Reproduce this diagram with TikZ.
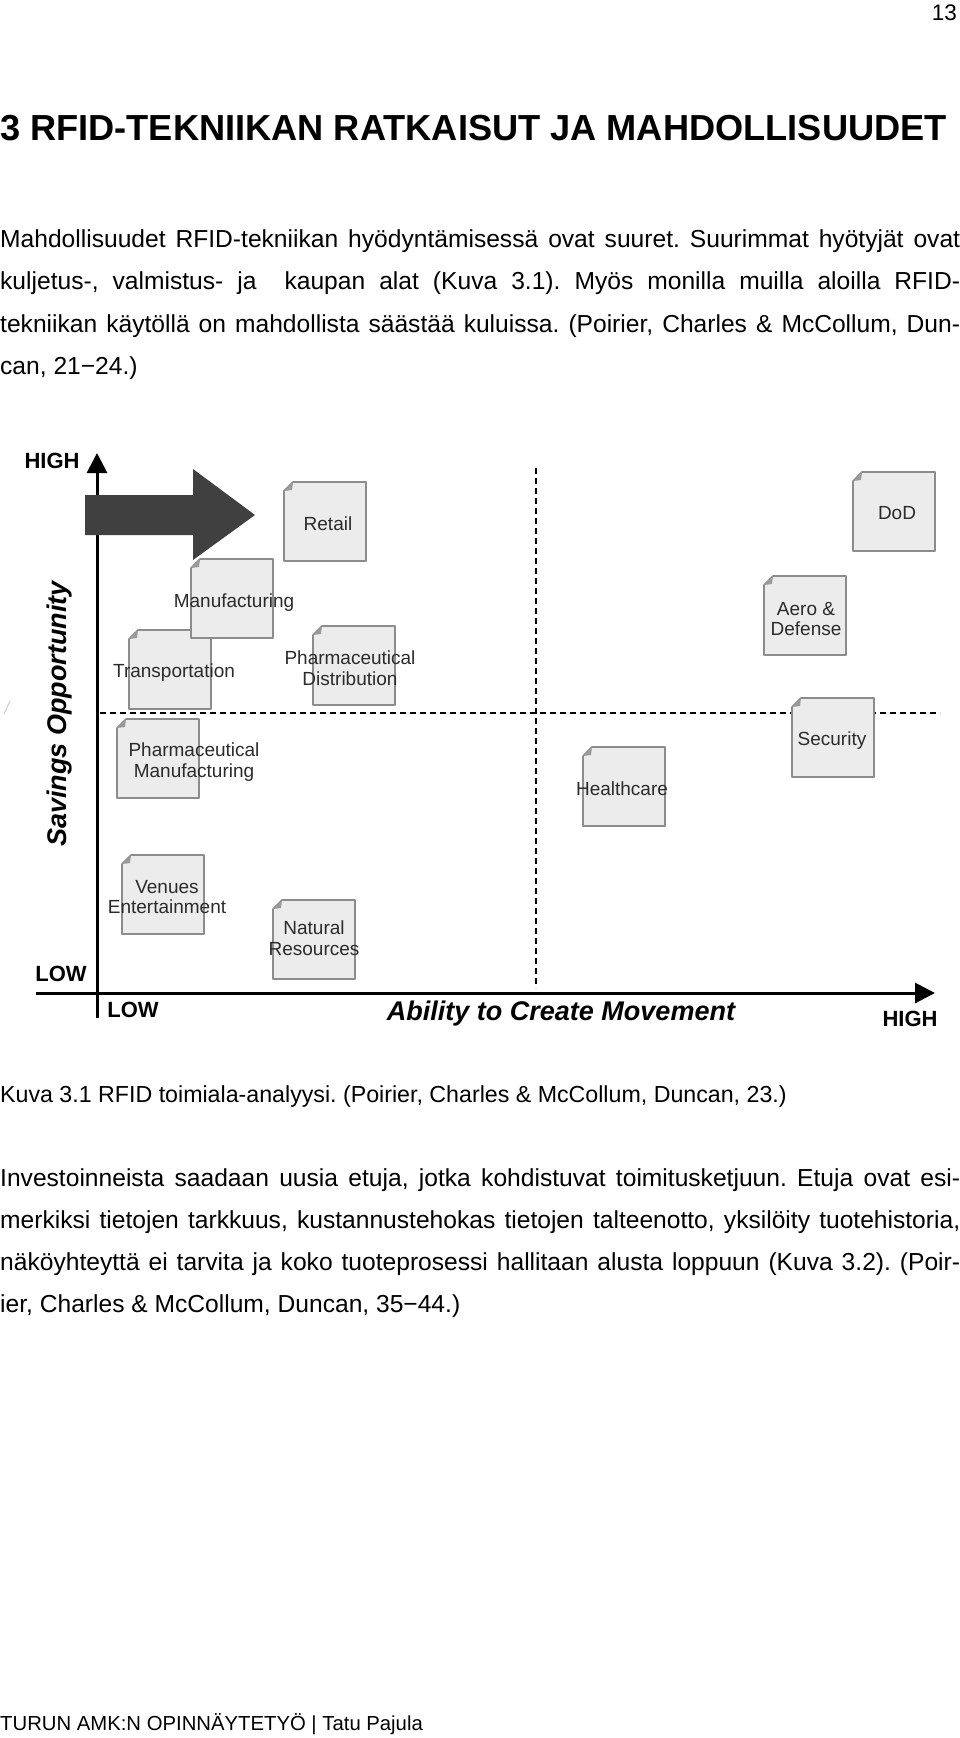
\documentclass[tikz,border=0pt]{standalone}
\usepackage{fontspec}
\setmainfont{Liberation Sans}
\usetikzlibrary{arrows.meta}
\frenchspacing
\definecolor{boxfill}{HTML}{ECECEC}
\definecolor{boxline}{HTML}{8C8C8C}
\definecolor{foldcol}{HTML}{9A9A9A}
\definecolor{arrowcol}{HTML}{404040}
\definecolor{labcol}{HTML}{2B2B2B}
\tikzset{
  pics/docbox/.style={code={
    \filldraw[fill=boxfill,draw=boxline,line width=1.6pt,line join=round]
      (9,0) -- (82,0) -- (82,79) -- (0,79) -- (0,9) -- cycle;
    \fill[foldcol] (0,9) -- (9,0) -- (8,8) -- cycle;
  }},
  bodyline/.style={anchor=base west,inner sep=0pt,font=\fontsize{24.6}{30}\selectfont},
  boxlab/.style={inner sep=0pt,align=center,text=labcol,font=\fontsize{19}{20.5}\selectfont},
  axlab/.style={anchor=base,inner sep=0pt,font=\fontsize{22}{26}\selectfont\bfseries},
  axtitle/.style={anchor=base,inner sep=0pt,font=\fontsize{27}{30}\selectfont\bfseries\itshape},
  dashline/.style={line width=1.4pt,dash pattern=on 6pt off 4pt},
  axisline/.style={line width=3pt,-{Triangle[length=20pt,width=20pt]}}
}
\begin{document}
\begin{tikzpicture}[x=1pt,y=-1pt]
\useasboundingbox[fill=white] (0,0) rectangle (960,1738);

% page number and heading
\node[anchor=base east,inner sep=0pt,font=\fontsize{22.5}{26}\selectfont] (pnum) at (957,20) {13};
\node[anchor=base west,inner sep=0pt,font=\fontsize{36.2}{40}\selectfont\bfseries] (head) at (0,140)
  {3 RFID-TEKNIIKAN RATKAISUT JA MAHDOLLISUUDET};

% paragraph 1
\node[bodyline] (p1a) at (0,247) {\makebox[960pt][s]{Mahdollisuudet RFID-tekniikan hyödyntämisessä ovat suuret. Suurimmat hyötyjät ovat}};
\node[bodyline] (p1b) at (0,289.5) {\makebox[960pt][s]{kuljetus-, valmistus- ja\ \ kaupan alat (Kuva 3.1). Myös monilla muilla aloilla RFID-}};
\node[bodyline] (p1c) at (0,332) {\makebox[960pt][s]{tekniikan käytöllä on mahdollista säästää kuluissa. (Poirier, Charles \& McCollum, Dun-}};
\node[bodyline] (p1d) at (0,374.5) {can, 21−24.)};

% chart: dashed quadrant lines
\draw[dashline] (536,468) -- (536,988);
\draw[dashline] (100,713) -- (940,713);

% axes
\coordinate (ylow) at (97,1018);
\coordinate (yhigh) at (97,453);
\coordinate (xlow) at (36,993);
\coordinate (xhigh) at (935,993);
\draw[axisline] (ylow) -- (yhigh);
\draw[axisline] (xlow) -- (xhigh);

% small mark at left
\draw[gray!40,line width=1pt] (4,714) -- (10,701);

% document boxes
\pic at (129,630) {docbox};   % Transportation
\pic at (191,559) {docbox};   % Manufacturing
\pic at (284,482) {docbox};   % Retail
\pic at (313,626) {docbox};   % Pharmaceutical Distribution
\pic at (117,719) {docbox};   % Pharmaceutical Manufacturing
\pic at (122,855) {docbox};   % Venues Entertainment
\pic at (273,900) {docbox};   % Natural Resources
\pic at (853,472) {docbox};   % DoD
\pic at (764,576) {docbox};   % Aero & Defense
\pic at (792,698) {docbox};   % Security
\pic at (583,747) {docbox};   % Healthcare

% big arrow
\fill[arrowcol] (85,495) -- (193,495) -- (193,469) -- (255,515) -- (193,560) -- (193,535) -- (85,535) -- cycle;

% box labels
\node[boxlab] (retail) at (328,524) {Retail};
\node[boxlab] (manuf) at (234,603) {Manufacturing};
\node[boxlab] (transp) at (174,673) {Transportation};
\node[boxlab] (pdist) at (350,668) {Pharmaceutical\\Distribution};
\node[boxlab] (pmanuf) at (194,762) {Pharmaceutical\\Manufacturing};
\node[boxlab] (venues) at (167,897) {Venues\\Entertainment};
\node[boxlab] (natres) at (314,938) {Natural\\Resources};
\node[boxlab] (dod) at (897,513) {DoD};
\node[boxlab] (aero) at (806,619) {Aero \&\\Defense};
\node[boxlab] (secur) at (832,741) {Security};
\node[boxlab] (health) at (622,789) {Healthcare};

% axis labels
\node[axlab] (yhighlab) at (52,468) {HIGH};
\node[axlab] (ylowlab) at (61,981) {LOW};
\node[axlab] (xlowlab) at (133,1017) {LOW};
\node[axlab] (xhighlab) at (910,1026) {HIGH};
\node[axtitle] (xtitle) at (561,1020) {Ability to Create Movement};
\node[axtitle,rotate=90] (ytitle) at (66,714) {Savings Opportunity};

% caption
\node[anchor=base west,inner sep=0pt,font=\fontsize{23.2}{28}\selectfont] (cap) at (0,1102)
  {Kuva 3.1 RFID toimiala-analyysi. (Poirier, Charles \& McCollum, Duncan, 23.)};

% paragraph 2
\node[bodyline] (p2a) at (0,1186) {\makebox[960pt][s]{Investoinneista saadaan uusia etuja, jotka kohdistuvat toimitusketjuun. Etuja ovat esi-}};
\node[bodyline] (p2b) at (0,1228) {\makebox[960pt][s]{merkiksi tietojen tarkkuus, kustannustehokas tietojen talteenotto, yksilöity tuotehistoria,}};
\node[bodyline] (p2c) at (0,1270) {\makebox[960pt][s]{näköyhteyttä ei tarvita ja koko tuoteprosessi hallitaan alusta loppuun (Kuva 3.2). (Poir-}};
\node[bodyline] (p2d) at (0,1312) {ier, Charles \& McCollum, Duncan, 35−44.)};

% footer
\node[anchor=base west,inner sep=0pt,font=\fontsize{20.3}{24}\selectfont] (foot) at (0,1730)
  {TURUN AMK:N OPINNÄYTETYÖ | Tatu Pajula};
\end{tikzpicture}
\end{document}
